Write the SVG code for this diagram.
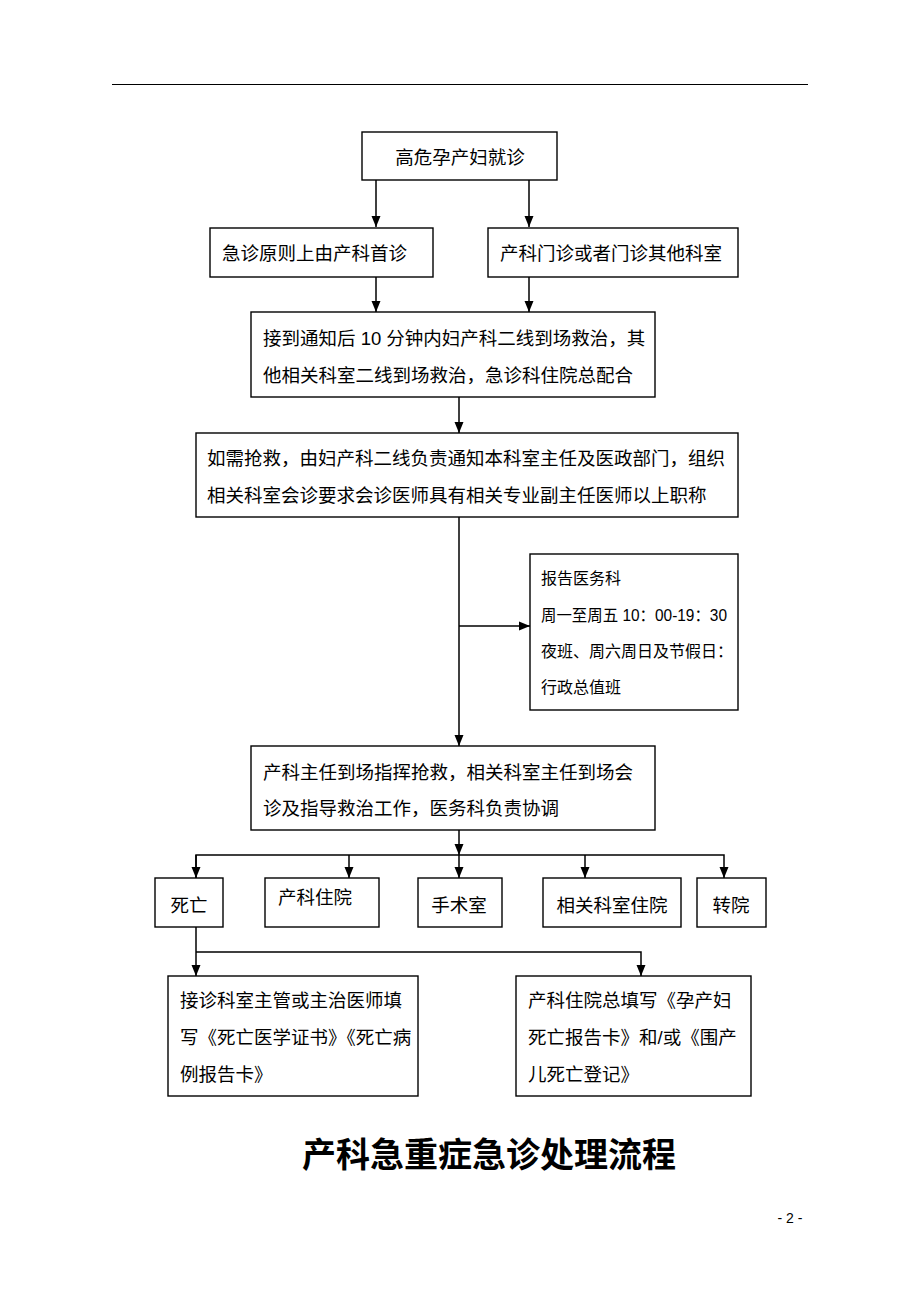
<svg xmlns="http://www.w3.org/2000/svg" width="920" height="1302" viewBox="0 0 920 1302">
<style>
.box{fill:#fff;stroke:#000;stroke-width:1.4}
.t{font-family:"Liberation Sans","Noto Sans CJK SC",sans-serif;font-size:18.5px;fill:#000;dominant-baseline:central}
.s{font-family:"Liberation Sans","Noto Sans CJK SC",sans-serif;font-size:16px;fill:#000;dominant-baseline:central}
.c{text-anchor:middle}
.ln{fill:none;stroke:#000;stroke-width:1.5}
</style>
<defs>
<marker id="ah" markerUnits="userSpaceOnUse" markerWidth="12" markerHeight="12" viewBox="0 0 12 12" refX="11" refY="6" orient="auto">
<path d="M0,1.5 L11,6 L0,10.5 Z" fill="#000"/>
</marker>
</defs>
<rect width="920" height="1302" fill="#fff"/>
<line x1="112" y1="84.5" x2="808" y2="84.5" stroke="#000" stroke-width="1.2"/>

<g id="connectors">
<line class="ln" x1="376" y1="180" x2="376" y2="227" marker-end="url(#ah)"/>
<line class="ln" x1="529" y1="180" x2="529" y2="227" marker-end="url(#ah)"/>
<line class="ln" x1="376" y1="277" x2="376" y2="312" marker-end="url(#ah)"/>
<line class="ln" x1="529" y1="277" x2="529" y2="312" marker-end="url(#ah)"/>
<line class="ln" x1="459" y1="397" x2="459" y2="433" marker-end="url(#ah)"/>
<line class="ln" x1="459" y1="517" x2="459" y2="746" marker-end="url(#ah)"/>
<line class="ln" x1="459" y1="626" x2="530" y2="626" marker-end="url(#ah)"/>
<line class="ln" x1="459" y1="830" x2="459" y2="855" marker-end="url(#ah)"/>
<polyline class="ln" points="196,878 196,855 724,855 724,878" marker-end="url(#ah)"/>
<line class="ln" x1="196" y1="855" x2="196" y2="878" marker-end="url(#ah)"/>
<line class="ln" x1="349" y1="855" x2="349" y2="878" marker-end="url(#ah)"/>
<line class="ln" x1="459" y1="855" x2="459" y2="878" marker-end="url(#ah)"/>
<line class="ln" x1="585" y1="855" x2="585" y2="878" marker-end="url(#ah)"/>
<line class="ln" x1="196" y1="927" x2="196" y2="976" marker-end="url(#ah)"/>
<polyline class="ln" points="196,952 641,952 641,976" marker-end="url(#ah)"/>
</g>

<g id="n1"><rect class="box" x="362" y="132" width="195" height="48"/><text class="t c" x="460" y="157">高危孕产妇就诊</text></g>
<g id="n2a"><rect class="box" x="210" y="228" width="223" height="49"/><text class="t" x="222" y="253">急诊原则上由产科首诊</text></g>
<g id="n2b"><rect class="box" x="488" y="228" width="250" height="49"/><text class="t" x="500" y="253">产科门诊或者门诊其他科室</text></g>
<g id="n3"><rect class="box" x="251" y="312" width="404" height="85"/>
<text class="t" x="263" y="338">接到通知后 10 分钟内妇产科二线到场救治，其</text>
<text class="t" x="263" y="375">他相关科室二线到场救治，急诊科住院总配合</text></g>
<g id="n4"><rect class="box" x="196" y="433" width="542" height="84"/>
<text class="t" x="207" y="458">如需抢救，由妇产科二线负责通知本科室主任及医政部门，组织</text>
<text class="t" x="207" y="495">相关科室会诊要求会诊医师具有相关专业副主任医师以上职称</text></g>
<g id="n-report"><rect class="box" x="530" y="554" width="208" height="156"/>
<text class="s" x="541" y="578">报告医务科</text>
<text class="s" x="541" y="615" textLength="186" lengthAdjust="spacingAndGlyphs">周一至周五 10：00-19：30</text>
<text class="s" x="541" y="651">夜班、周六周日及节假日：</text>
<text class="s" x="541" y="687">行政总值班</text></g>
<g id="n5"><rect class="box" x="251" y="746" width="404" height="84"/>
<text class="t" x="263" y="772">产科主任到场指挥抢救，相关科室主任到场会</text>
<text class="t" x="263" y="808">诊及指导救治工作，医务科负责协调</text></g>
<g id="n-death"><rect class="box" x="155" y="878" width="68" height="49"/><text class="t c" x="189" y="905">死亡</text></g>
<g id="n-obs"><rect class="box" x="265" y="878" width="114" height="49"/><text class="t" x="278" y="897">产科住院</text></g>
<g id="n-or"><rect class="box" x="418" y="878" width="84" height="49"/><text class="t c" x="459" y="905">手术室</text></g>
<g id="n-rel"><rect class="box" x="543" y="878" width="138" height="49"/><text class="t c" x="612" y="905">相关科室住院</text></g>
<g id="n-trans"><rect class="box" x="697" y="878" width="69" height="49"/><text class="t c" x="731" y="905">转院</text></g>
<g id="n6a"><rect class="box" x="168" y="976" width="250" height="120"/>
<text class="t" x="180" y="1000">接诊科室主管或主治医师填</text>
<text class="t" x="180" y="1037">写《死亡医学证书》《死亡病</text>
<text class="t" x="180" y="1074">例报告卡》</text></g>
<g id="n6b"><rect class="box" x="516" y="976" width="235" height="120"/>
<text class="t" x="528" y="1000">产科住院总填写《孕产妇</text>
<text class="t" x="528" y="1037">死亡报告卡》和/或《围产</text>
<text class="t" x="528" y="1074">儿死亡登记》</text></g>

<text x="489" y="1152" text-anchor="middle" dominant-baseline="central" font-family="'Noto Sans CJK SC',sans-serif" font-weight="bold" font-size="34">产科急重症急诊处理流程</text>
<text x="790" y="1218" text-anchor="middle" dominant-baseline="central" font-family="'Liberation Sans',sans-serif" font-size="14">- 2 -</text>
</svg>
